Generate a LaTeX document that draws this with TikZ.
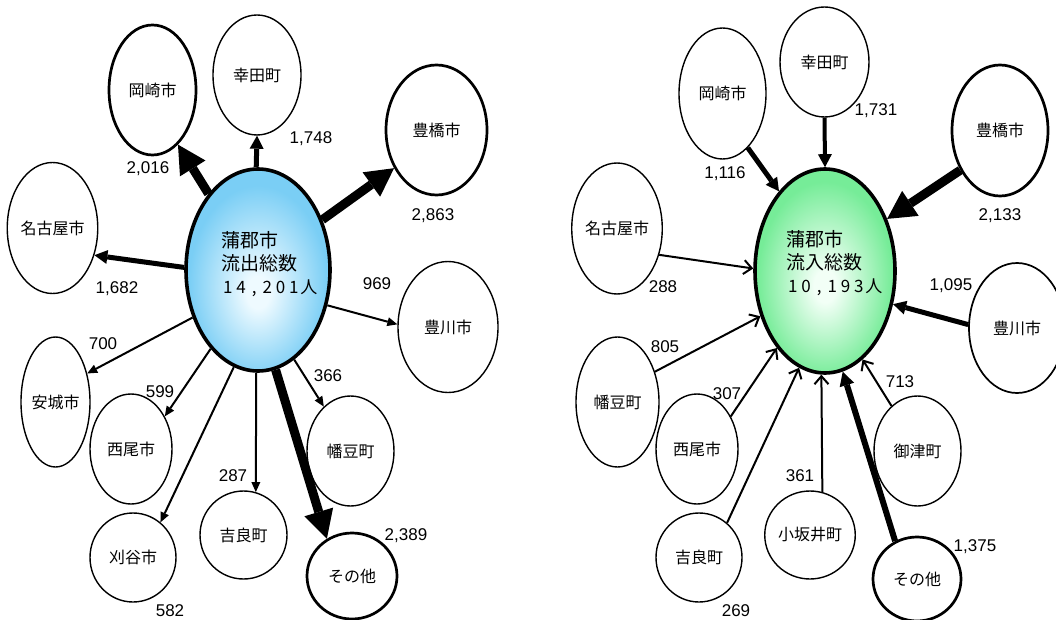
\documentclass[tikz,border=0pt]{standalone}
\usepackage{fontspec}
\setmainfont{Liberation Sans}
\newfontfamily\jpf{Noto Sans CJK JP}
\usetikzlibrary{arrows.meta,shapes.geometric}
\definecolor{bout}{RGB}{122,206,245}
\definecolor{bin}{RGB}{238,250,255}
\definecolor{gout}{RGB}{118,236,152}
\definecolor{gin}{RGB}{242,255,246}
\pgfdeclareradialshading{bluehub}{\pgfpoint{0bp}{-6bp}}{color(0bp)=(bin); color(4bp)=(bin); color(24bp)=(bout); color(50bp)=(bout)}
\pgfdeclareradialshading{greenhub}{\pgfpoint{0bp}{-4bp}}{color(0bp)=(gin); color(4bp)=(gin); color(24bp)=(gout); color(50bp)=(gout)}
\newcommand\mbx[1]{\makebox[13.2pt]{#1}}
\tikzset{
  place/.style={ellipse, draw, line width=1.4pt, inner sep=0pt, fill=white,
    font=\jpf\fontsize{16}{18}\selectfont},
  bold/.style={line width=2.7pt},
  sz/.style 2 args={minimum width=#1pt, minimum height=#2pt},
  hub/.style={ellipse, draw, line width=3.6pt, inner sep=0pt, shade},
  hubtext/.style={anchor=west, align=left, inner sep=0pt, font=\jpf\fontsize{19}{23}\selectfont},
  num/.style={inner sep=0pt, text height=12.2pt, text depth=0pt, font=\fontsize{17}{20}\selectfont},
  big/.style={line width=9pt, -{Triangle[length=28pt,width=30pt,line width=0pt]}},
  mid/.style={line width=5pt, -{Triangle[length=13pt,width=14pt,line width=0pt]}},
  midb/.style={line width=6pt, -{Triangle[length=14pt,width=15pt,line width=0pt]}},
  thin/.style={line width=2pt, -{Triangle[length=10pt,width=9pt,line width=0pt]}},
  open/.style={line width=2pt, -{Straight Barb[length=8pt,width=14pt,line width=2pt]}}
}
\begin{document}
\begin{tikzpicture}[x=1pt,y=-1pt]
\useasboundingbox (0,0) rectangle (1056,620);
\clip (0,0) rectangle (1056,620);

% ---------- left: outflow ----------
\node[hub, shading=bluehub, sz={144}{202}] (c1) at (258,270) {};
\node[hubtext] (c1t) at (221,264) {蒲郡市\\流出総数\\{\fontsize{17}{23}\selectfont\mbx{1}\mbx{4}\mbx{,}\mbx{2}\mbx{0}\mbx{1}人}};

\node[place, bold, sz={87}{130}] (ok1) at (152.5,90) {岡崎市};
\node[place, sz={88}{120}] (kt1) at (257,75) {幸田町};
\node[place, bold, sz={101}{130}] (th1) at (436.5,130) {豊橋市};
\node[place, sz={81}{131}] (ng1) at (52.5,228) {名古屋市};
\node[place, sz={100}{131}] (tk1) at (448,327) {豊川市};
\node[place, sz={69}{130}] (aj1) at (55.5,402) {安城市};
\node[place, sz={82}{110}] (ns1) at (131,449) {西尾市};
\node[place, sz={86}{89}] (kr1) at (133,557.5) {刈谷市};
\node[place, sz={87}{88}] (kl1) at (243.5,535) {吉良町};
\node[place, sz={87}{110}] (hz1) at (350.5,451) {幡豆町};
\node[place, bold, sz={90}{86}] (so1) at (352,576) {その他};

\draw[big] (c1.123) -- (ok1.-65);
\draw[mid] (c1.91) -- (kt1.-90);
\draw[big] (c1.38) -- (th1.-138);
\draw[mid] (c1.178) -- (ng1.-33);
\draw[thin] (c1.-27) -- (tk1.177);
\draw[thin] (c1.-144) -- (aj1.42);
\draw[thin] (c1.-121) -- (ns1.44);
\draw[thin] (c1.-104) -- (kr1.52);
\draw[thin] (c1.-91) -- (kl1.74);
\draw[thin] (c1.-68) -- (hz1.121);
\draw[big] (c1.-80) -- (so1.124);

\node[num] (v1) at (148,167) {2,016};
\node[num] (v2) at (311,137) {1,748};
\node[num] (v3) at (433,214) {2,863};
\node[num] (v4) at (117,287) {1,682};
\node[num] (v5) at (377,283) {969};
\node[num] (v6) at (103,343) {700};
\node[num] (v7) at (160,391) {599};
\node[num] (v8) at (170,610) {582};
\node[num] (v9) at (233,475) {287};
\node[num] (v10) at (328,375) {366};
\node[num] (v11) at (406,534) {2,389};

% ---------- right: inflow ----------
\node[hub, shading=greenhub, sz={140}{204}] (c2) at (825,271) {};
\node[hubtext] (c2t) at (786,263) {蒲郡市\\流入総数\\{\fontsize{17}{23}\selectfont\mbx{1}\mbx{0}\mbx{,}\mbx{1}\mbx{9}\mbx{3}人}};

\node[place, sz={87}{131}] (ok2) at (722.5,93.5) {岡崎市};
\node[place, sz={89}{110}] (kt2) at (824.5,62) {幸田町};
\node[place, bold, sz={96}{131}] (th2) at (1000,130.5) {豊橋市};
\node[place, sz={84}{131}] (ng2) at (617,228.5) {名古屋市};
\node[place, line width=1.7pt, sz={96}{130}] (tk2) at (1017,328) {豊川市};
\node[place, sz={83}{130}] (hz2) at (617.5,402) {幡豆町};
\node[place, sz={82}{110}] (ns2) at (697,449) {西尾市};
\node[place, sz={86}{89}] (kl2) at (699,557.5) {吉良町};
\node[place, sz={88}{88}] (ks2) at (810,535) {小坂井町};
\node[place, sz={87}{110}] (mt2) at (917.5,451) {御津町};
\node[place, bold, sz={88}{84}] (so2) at (917,579) {その他};

\draw[mid] (ok2.-65) -- (c2.120);
\draw[mid, line width=4pt] (kt2.-90) -- (c2.90);
\draw[big] (th2.-135) -- (c2.40);
\draw[open] (ng2.-32) -- (c2.178);
\draw[mid] (tk2.176) -- (c2.-26);
\draw[open] (hz2.39) -- (c2.-145);
\draw[open] (ns2.44) -- (c2.-122);
\draw[open] (kl2.51) -- (c2.-105);
\draw[open] (ks2.74) -- (c2.-92);
\draw[open] (mt2.120) -- (c2.-67);
\draw[midb] (so2.120) -- (c2.-80);

\node[num] (w1) at (725,172) {1,116};
\node[num] (w2) at (876,109) {1,731};
\node[num] (w3) at (1000,214) {2,133};
\node[num] (w4) at (663,286) {288};
\node[num] (w5) at (951,284) {1,095};
\node[num] (w6) at (665,346) {805};
\node[num] (w7) at (727,393) {307};
\node[num] (w8) at (736,610) {269};
\node[num] (w9) at (800,475) {361};
\node[num] (w10) at (900,381) {713};
\node[num] (w11) at (975,545) {1,375};
\end{tikzpicture}
\end{document}
